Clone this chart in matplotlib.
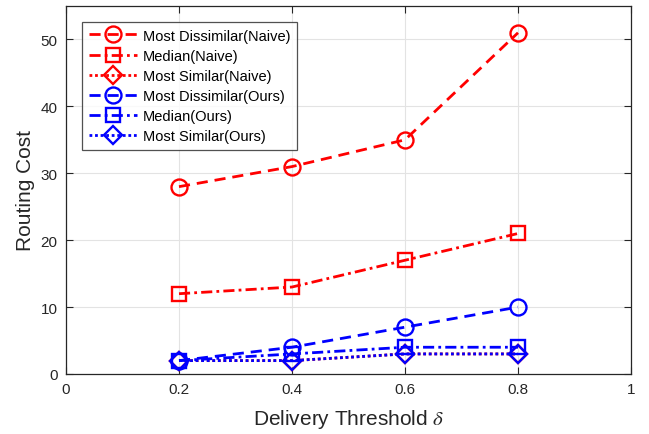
import matplotlib
matplotlib.use("Agg")
import matplotlib.pyplot as plt

thresholds = [0.2, 0.4, 0.6, 0.8]
naive_dissimilar = [28, 31, 35, 51]
naive_median = [12, 13, 17, 21]
naive_similar = [2, 2, 3, 3]
ours_dissimilar = [2, 4, 7, 10]
ours_median = [2, 3, 4, 4]
ours_similar = [2, 2, 3, 3]

plt.rcParams['font.family'] = ['Liberation Sans', 'DejaVu Sans']
plt.rcParams['mathtext.fontset'] = 'stix'

fig = plt.figure(figsize=(6.49, 4.35), dpi=100)
ax = fig.add_axes([66/649, 1-375/435, (631-66)/649, (375-7)/435])

lw = 2.0
ms = 11.5
mew = 1.7
series = [
    (naive_dissimilar, 'red', (0, (4, 2.5)), 'o', 'Most Dissimilar(Naive)'),
    (naive_median, 'red', (0, (4, 1.5, 1, 1.5)), 's', 'Median(Naive)'),
    (naive_similar, 'red', (0, (1, 1)), 'D', 'Most Similar(Naive)'),
    (ours_dissimilar, 'blue', (0, (4, 2.5)), 'o', 'Most Dissimilar(Ours)'),
    (ours_median, 'blue', (0, (4, 1.5, 1, 1.5)), 's', 'Median(Ours)'),
    (ours_similar, 'blue', (0, (1, 1)), 'D', 'Most Similar(Ours)'),
]
for vals, c, ls, m, lab in series:
    msz = ms * 0.8 if m == 'D' else (ms * 0.9 if m == 's' else ms)
    ax.plot(thresholds, vals, color=c, linestyle=ls, linewidth=lw, marker=m,
            markersize=msz, markerfacecolor='none', markeredgewidth=mew,
            markeredgecolor=c, label=lab, clip_on=False, zorder=3)

ax.set_xlim(0, 1)
ax.set_ylim(0, 55)
ax.set_xticks([0, 0.2, 0.4, 0.6, 0.8, 1])
ax.set_xticklabels(['0', '0.2', '0.4', '0.6', '0.8', '1'])
ax.set_yticks([0, 10, 20, 30, 40, 50])
ax.grid(True, color='#e3e3e3', linewidth=0.8)
ax.set_axisbelow(True)
ax.tick_params(direction='in', top=True, right=True, labelsize=11, length=5,
               width=0.8, colors='#262626', pad=6)
for sp in ax.spines.values():
    sp.set_color('#262626')
    sp.set_linewidth(0.9)

ax.set_xlabel(r'Delivery Threshold $\delta$', fontsize=15, color='#262626', labelpad=8)
ax.set_ylabel('Routing Cost', fontsize=15, color='#262626', labelpad=4)

leg = ax.legend(loc='upper left', bbox_to_anchor=((82-66)/565, 1-(23-7)/368),
                fontsize=10.5, frameon=True, fancybox=False, edgecolor='#262626',
                handlelength=3.3, handletextpad=0.45, labelspacing=0.42,
                borderpad=0.45, borderaxespad=0)
leg.get_frame().set_linewidth(0.9)

fig.savefig('out.png', dpi=100)
